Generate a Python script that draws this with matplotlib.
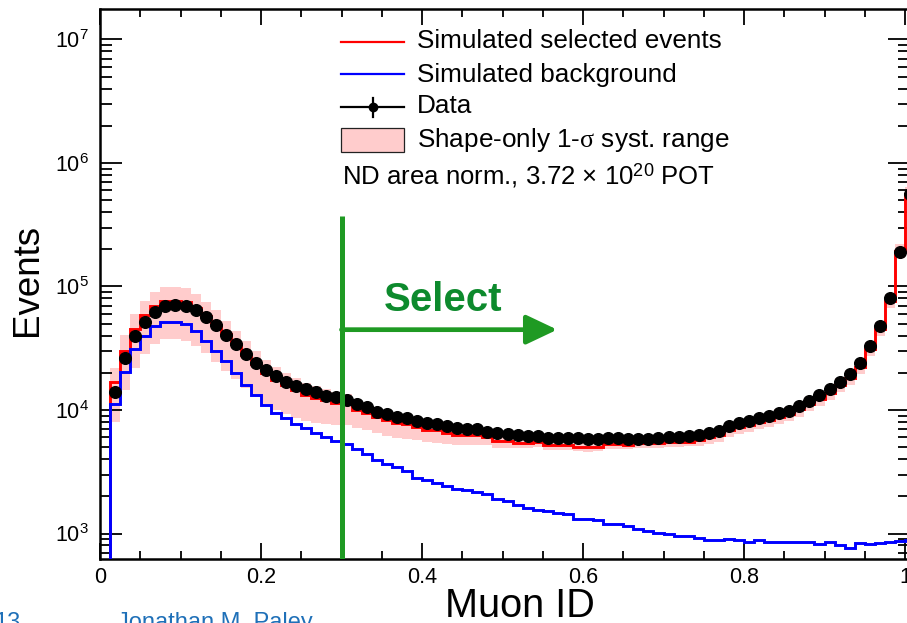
import numpy as np
import matplotlib
matplotlib.use("Agg")
import matplotlib.pyplot as plt
from matplotlib.lines import Line2D
from matplotlib.patches import Rectangle
from matplotlib.ticker import LogLocator, NullFormatter, MultipleLocator, FuncFormatter

plt.rcParams['font.family'] = ['Liberation Sans', 'DejaVu Sans']
plt.rcParams['mathtext.fontset'] = 'custom'
plt.rcParams['mathtext.rm'] = 'Liberation Sans'
plt.rcParams['mathtext.it'] = 'Liberation Serif'
plt.rcParams['mathtext.bf'] = 'Liberation Sans:bold'

# muon ID histogram, 81 bins of 0.0125 (first bin empty, last one sits at 1.0)
bin_width = 0.0125
n_bins = 81

data = [np.nan, 14100, 26300, 40000, 51600, 61800, 69200, 71000, 70000, 64000,
        56600, 48400, 40700, 34000, 28500, 24000, 20900, 18700, 16900, 15700,
        14700, 13900, 13100, 12800, 12000, 11200, 10500, 9700, 9270, 8820,
        8560, 8180, 7790, 7640, 7410, 7180, 6960, 6960, 6590, 6470,
        6380, 6270, 6200, 6150, 5950, 5900, 5900, 5900, 5800, 5850,
        5900, 5900, 5850, 5850, 5800, 5950, 6000, 6050, 6150, 6300,
        6530, 6790, 7410, 7800, 8150, 8570, 8940, 9500, 9880, 10800,
        11900, 13200, 14700, 16900, 19500, 24000, 33100, 48200, 80400, 190000,
        560000]

sim_selected = [0, 16800, 30200, 45600, 59200, 70000, 76900, 77000, 74500, 67000,
                58000, 49000, 41000, 34000, 28000, 23500, 20000, 17600, 15800, 14400,
                13300, 12600, 12000, 11500, 11200, 10000, 9500, 8800, 8300, 7800,
                7750, 7300, 6900, 6850, 6500, 6270, 6250, 6250, 6070, 5650,
                5600, 5450, 5400, 5500, 5200, 5200, 5200, 5050, 5000, 5050,
                5300, 5300, 5250, 5400, 5400, 5400, 5500, 5500, 5550, 5700,
                6000, 6250, 6850, 7250, 7600, 8000, 8350, 8850, 9250, 10100,
                11100, 12300, 13700, 15800, 18300, 22500, 31000, 45500, 76000, 194000,
                560000]

sim_background = [0, 11200, 20200, 31000, 40000, 47500, 51600, 51600, 49800, 43400,
                  36400, 30300, 24700, 19900, 16000, 13200, 11000, 9500, 8570, 7650,
                  7100, 6470, 6000, 5600, 5300, 4850, 4400, 3970, 3640, 3460,
                  3190, 2840, 2700, 2570, 2410, 2310, 2260, 2170, 2080, 1920,
                  1830, 1690, 1620, 1560, 1520, 1460, 1430, 1300, 1300, 1280,
                  1200, 1200, 1160, 1090, 1040, 1010, 990, 960, 950, 920,
                  880, 890, 910, 880, 860, 880, 850, 850, 860, 850,
                  850, 820, 850, 800, 770, 840, 820, 840, 850, 870,
                  880]

syst_low = [0, 8000, 14500, 22000, 28500, 34000, 37600, 37600, 36500, 33000,
            28800, 24500, 20800, 17700, 15000, 12800, 11200, 10000, 9200, 8600,
            8100, 7900, 7700, 7550, 7500, 7100, 6900, 6500, 6200, 5950,
            5800, 5700, 5500, 5450, 5300, 5200, 5200, 5200, 5200, 4970,
            4970, 4900, 4900, 5000, 4750, 4750, 4750, 4650, 4600, 4650,
            4850, 4850, 4800, 4950, 4950, 4950, 5050, 5050, 5100, 5150,
            5300, 5500, 6000, 6350, 6650, 7000, 7300, 7750, 8100, 8850,
            9750, 10800, 12000, 13900, 16000, 19700, 27200, 40000, 66800, 170000,
            490000]

syst_high = [0, 21900, 40700, 60000, 77000, 91000, 99600, 99600, 96500, 87000,
             75500, 64000, 53000, 44000, 36000, 30000, 25500, 22300, 20000, 18000,
             16600, 15600, 14800, 14000, 13600, 12000, 11300, 10400, 9800, 9200,
             9100, 8550, 8050, 7950, 7550, 7250, 7200, 7200, 6950, 6500,
             6450, 6250, 6150, 6100, 5800, 5800, 5800, 5600, 5550, 5600,
             5850, 5850, 5800, 5950, 5950, 5950, 6050, 6050, 6150, 6350,
             6750, 7050, 7750, 8250, 8650, 9100, 9500, 10100, 10500, 11500,
             12600, 14000, 15600, 18000, 20900, 25600, 35300, 51800, 86600, 221000,
             640000]

cut_value = 0.3

edges = np.arange(n_bins + 1) * bin_width
centers = edges[:-1] + bin_width / 2

W, H = 907, 623
green = '#1f9a23'
pink = '#ffcccc'

fig = plt.figure(figsize=(W / 100, H / 100), dpi=100)
x0_px, x1_px = 100, 100 + 1.00625 * 805
ax = fig.add_axes([x0_px / W, 1 - 559 / H, (x1_px - x0_px) / W, (559 - 8.5) / H])
ax.set_yscale('log')
ax.set_xlim(0, 1.00625)
ax.set_ylim(622, 1.78e7)

ax.stairs(syst_high, edges, baseline=syst_low, fill=True, color=pink, lw=0, zorder=1)
ax.stairs(sim_selected, edges, baseline=None, color='#ff0000', lw=2.1, zorder=2)
ax.stairs(sim_background, edges, baseline=None, color='#0000ff', lw=2.1, zorder=3)
ax.plot(centers, data, 'o', color='black', ms=8.4, zorder=4)

# cut line and arrow
y_top_cut = 3.7e5
ax.plot([cut_value, cut_value], [622, y_top_cut], color=green, lw=3.6, zorder=5,
        solid_capstyle='butt')
ax.annotate('', xy=(0.568, 4.47e4), xytext=(cut_value, 4.47e4),
            arrowprops=dict(arrowstyle='-|>,head_length=0.95,head_width=0.45',
                            mutation_scale=20, lw=3.4, color=green,
                            shrinkA=0, shrinkB=0), zorder=5)
ax.text(0.4265, 7.8e4, 'Select', color='#0d8a2d', fontsize=29, fontweight='bold',
        ha='center', va='center', zorder=6)

# axes styling
for s in ax.spines.values():
    s.set_linewidth(1.8)
ax.xaxis.set_major_locator(MultipleLocator(0.2))
ax.xaxis.set_minor_locator(MultipleLocator(0.05))
ax.xaxis.set_major_formatter(FuncFormatter(lambda v, p: '%g' % round(v, 3)))
ax.yaxis.set_major_locator(LogLocator(base=10))
ax.yaxis.set_minor_locator(LogLocator(base=10, subs=np.arange(2, 10)))
ax.yaxis.set_minor_formatter(NullFormatter())
ax.tick_params(axis='both', which='both', direction='in', top=True, right=True,
               width=1.3, labelsize=15.5)
ax.tick_params(axis='x', which='major', length=11.5, pad=6)
ax.tick_params(axis='x', which='minor', length=5.8)
ax.tick_params(axis='y', which='major', length=16, pad=8)
ax.tick_params(axis='y', which='minor', length=8.5)

fig.text(27 / W, 1 - 280 / H, 'Events', rotation=90, fontsize=26.5,
         ha='center', va='center')
fig.text(520 / W, 1 - 606 / H, 'Muon ID', fontsize=28.5, ha='center', va='center')


# legend drawn by hand in pixel positions
def fx(x):
    return x / W


def fy(y):
    return 1 - y / H


fig.add_artist(Line2D([fx(341), fx(404)], [fy(42.3)] * 2, color='#ff0000', lw=1.6,
                      transform=fig.transFigure))
fig.add_artist(Line2D([fx(341), fx(404)], [fy(74.3)] * 2, color='#0000ff', lw=1.6,
                      transform=fig.transFigure))
fig.add_artist(Line2D([fx(341), fx(404)], [fy(107.3)] * 2, color='black', lw=1.6,
                      transform=fig.transFigure))
fig.add_artist(Line2D([fx(372.5)] * 2, [fy(97.5), fy(117)], color='black', lw=1.6,
                      transform=fig.transFigure))
fig.add_artist(Line2D([fx(372.5)], [fy(107.3)], marker='o', ms=6, color='black',
                      transform=fig.transFigure))
fig.add_artist(Rectangle((fx(341), fy(151.7)), fx(404) - fx(341), fy(128.3) - fy(151.7),
                         facecolor=pink, edgecolor='#222222', lw=0.9,
                         transform=fig.transFigure))

labels = ['Simulated selected events', 'Simulated background', 'Data',
          r'Shape-only 1-$\sigma$ syst. range']
baselines = [48.3, 81.7, 113.3, 147.3]
for lab, yb in zip(labels, baselines):
    fig.text(fx(417), fy(yb), lab, fontsize=18.8, va='baseline', ha='left')
fig.text(fx(341.5), fy(184), r'ND area norm., 3.72 $\times$ 10$^{20}$ POT',
         fontsize=18.5, va='baseline', ha='left')

# slide footer (cut off at the bottom)
fig.text(fx(-6), fy(629), '13', fontsize=17, color='#1f70b8', va='baseline')
fig.text(fx(117), fy(629), 'Jonathan M. Paley', fontsize=17, color='#1f70b8',
         va='baseline')

fig.savefig('out.png', dpi=100)
